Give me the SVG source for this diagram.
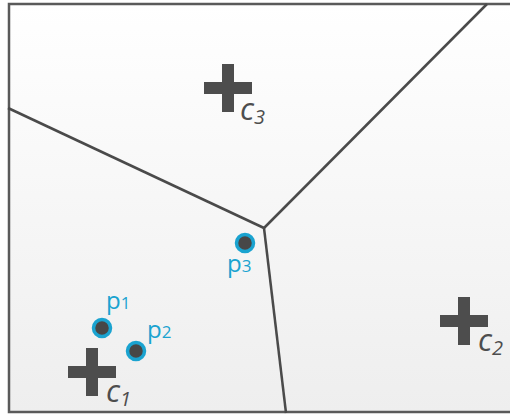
<svg xmlns="http://www.w3.org/2000/svg" width="510" height="414" viewBox="0 0 510 414">
<defs>
<linearGradient id="bg" x1="0" y1="0" x2="0" y2="1">
<stop offset="0" stop-color="#ffffff"/>
<stop offset="1" stop-color="#eeeeee"/>
</linearGradient>
<path id="cross" d="M-6,-24H6V-6H24V6H6V24H-6V6H-24V-6H-6Z"/>
</defs>
<style>
.edge{stroke:#4a4a4a;stroke-width:2.5;fill:none}
.cross{fill:#4d4d4d}
.clab{font-family:"Open Sans","Noto Sans",sans-serif;font-style:italic;font-size:31px;fill:#4d4d4d}
.pt{fill:#474747;stroke:#1aa3d0;stroke-width:3.5}
.plab{font-family:"Open Sans","Noto Sans",sans-serif;font-size:24px;fill:#1aa3d0}
</style>
<rect x="9" y="4" width="520" height="408" fill="url(#bg)" stroke="#5a5a5a" stroke-width="2.5"/>
<g id="connectors">
<path class="edge" d="M8,108L264,228"/>
<path class="edge" d="M264,228L487,4"/>
<path class="edge" d="M264,228L286,413"/>
</g>
<g id="c3"><use href="#cross" class="cross" x="228" y="88"/><text class="clab" x="240" y="120">c<tspan font-size="20" dy="4">3</tspan></text></g>
<g id="c1"><use href="#cross" class="cross" x="92" y="372"/><text class="clab" x="106" y="402">c<tspan font-size="20" dy="4">1</tspan></text></g>
<g id="c2"><use href="#cross" class="cross" x="464" y="321"/><text class="clab" x="478" y="351">c<tspan font-size="20" dy="4">2</tspan></text></g>
<g id="p1"><circle class="pt" cx="102" cy="328" r="8.5"/><text class="plab" x="106" y="309">p<tspan font-size="17">1</tspan></text></g>
<g id="p2"><circle class="pt" cx="136" cy="351" r="8.5"/><text class="plab" x="147" y="338">p<tspan font-size="17">2</tspan></text></g>
<g id="p3"><circle class="pt" cx="245" cy="243" r="8.5"/><text class="plab" x="227" y="272">p<tspan font-size="17">3</tspan></text></g>
</svg>
